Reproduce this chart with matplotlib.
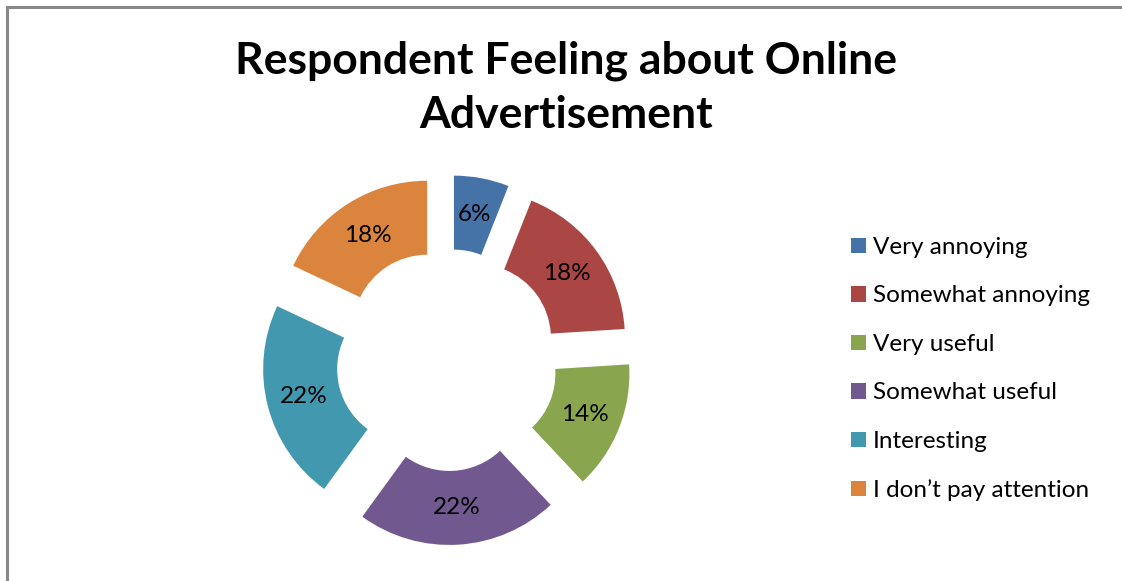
import matplotlib
matplotlib.use("Agg")
import matplotlib.pyplot as plt
from matplotlib.patches import Patch, Rectangle

plt.rcParams['font.family'] = ['Lato', 'DejaVu Sans']

categories = ['Very annoying', 'Somewhat annoying', 'Very useful',
              'Somewhat useful', 'Interesting', 'I don\u2019t pay attention']
shares = [6, 18, 14, 22, 22, 18]
colors = ['#4572A7', '#AA4643', '#89A54E', '#71588F', '#4198AF', '#DB843D']
title = 'Respondent Feeling about Online\nAdvertisement'

W, H = 1122, 581
fig = plt.figure(figsize=(W / 100, H / 100), dpi=100)
ax = fig.add_axes([0, 0, 1, 1])

# exploded doughnut, drawn in pixel units
R = 148
wedges, texts, autotexts = ax.pie(
    shares, colors=colors, startangle=90, counterclock=False,
    center=(447, H - 360), radius=R, explode=[37] * len(shares),
    wedgeprops=dict(width=R / 2, linewidth=0),
    autopct='%1.0f%%', pctdistance=0.75,
    textprops=dict(fontsize=17.5, color='black'),
    frame=True)
ax.set_xlim(0, W)
ax.set_ylim(0, H)
ax.set_aspect('equal')
ax.axis('off')

fig.text(566 / W, 1 - 88 / H, title, ha='center', va='center',
         fontsize=32, fontweight='bold', linespacing=1.42)

handles = [Patch(facecolor=c, edgecolor='none') for c in colors]
fig.legend(handles, categories, loc='upper left',
           bbox_to_anchor=(851 / W, 1 - 237 / H), frameon=False,
           borderpad=0, borderaxespad=0,
           fontsize=17.5, handlelength=0.6, handleheight=0.6,
           handletextpad=0.3, labelspacing=1.13)

# chart-area border (left and top edges visible)
fig.patches.append(Rectangle((7 / W, -0.5), 2, 1.5 - 7 / H, fill=False,
                             edgecolor='#888888', linewidth=2.2,
                             transform=fig.transFigure, figure=fig))

fig.savefig('out.png', dpi=100)
